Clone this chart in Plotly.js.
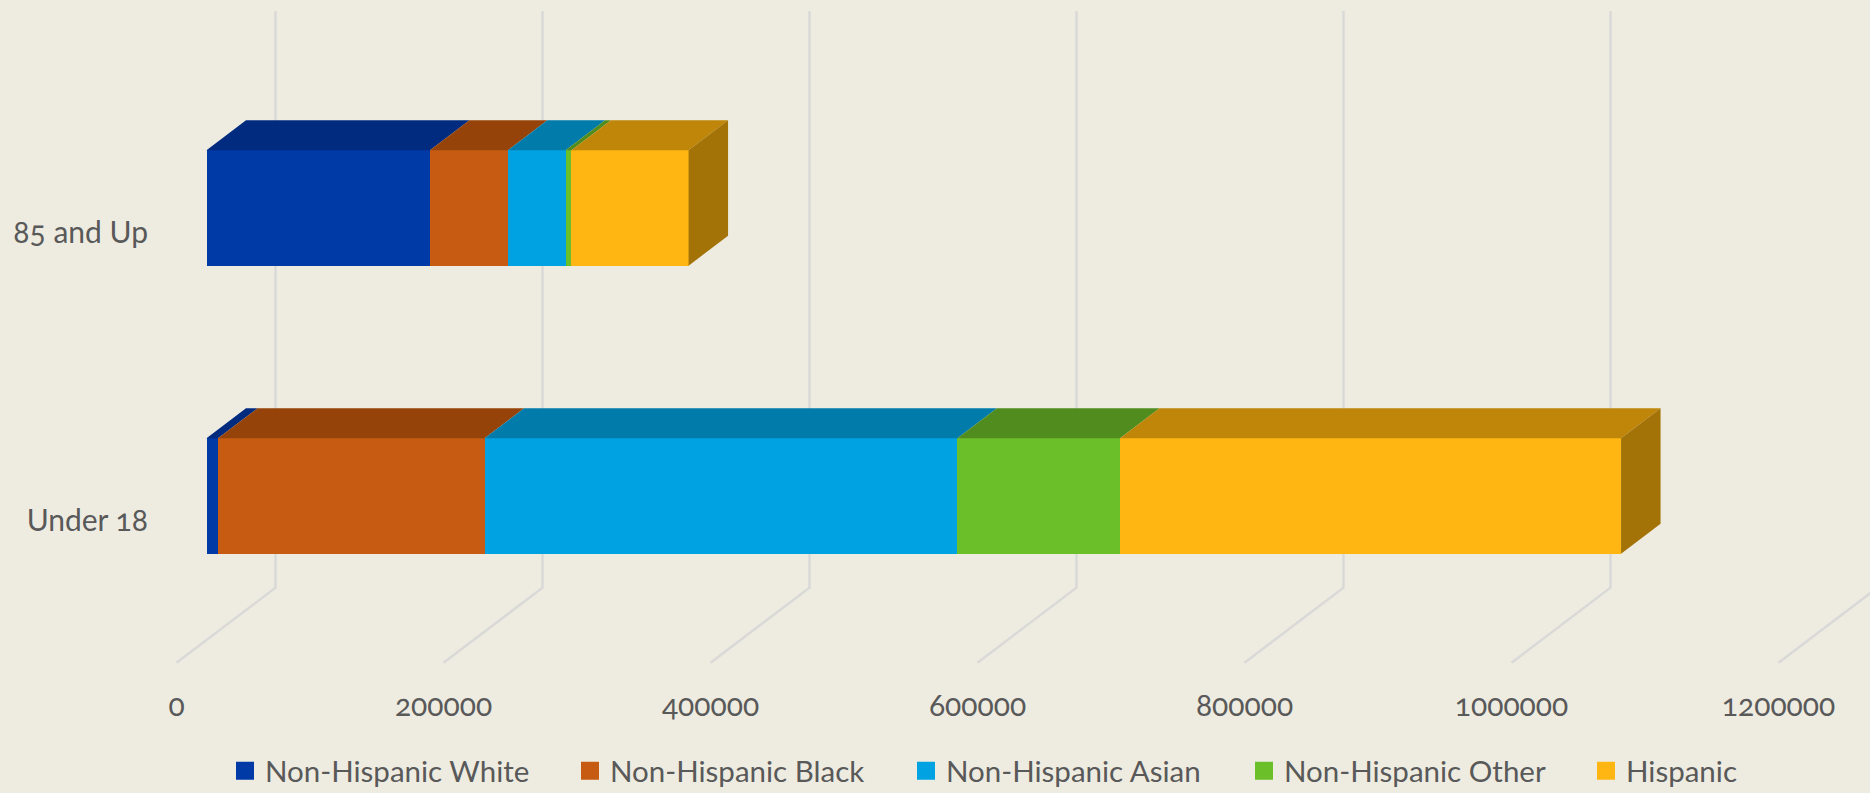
<!DOCTYPE html>
<html>
<head>
<meta charset="utf-8">
<script src="https://cdn.plot.ly/plotly-3.0.1.min.js"></script>
<style>html,body{margin:0;padding:0;background:#EEECE1;overflow:hidden}#chart{width:1870px;height:793px}
.xtick text,.ytick text{font-variant-numeric:oldstyle-nums !important;font-feature-settings:"onum" 1 !important}</style>
</head>
<body>
<div id="chart"></div>
<script>
// ---- data ----
const categories = ["Under 18", "85 and Up"];
const seriesNames = ["Non-Hispanic White", "Non-Hispanic Black", "Non-Hispanic Asian", "Non-Hispanic Other", "Hispanic"];
const nonHispanicWhite = [8600, 167400];
const nonHispanicBlack = [199700, 58300];
const nonHispanicAsian = [354200, 43300];
const nonHispanicOther = [121800, 4400];
const hispanic = [375300, 87700];
const xTickValues = [0, 200000, 400000, 600000, 800000, 1000000, 1200000];

// ---- styles ----
const frontColors = ["#003AA6", "#C75B12", "#00A2E2", "#6BBF29", "#FFB612"];
const topColors = ["#002B7E", "#954309", "#007BAA", "#518C1E", "#BF860A"];
const sideColor = "#A37307";
const bg = "#EEECE1", grid = "#D9D9D8", text = "#595959";
const fontFamily = "Lato, 'Open Sans', sans-serif";
const legendKeyPx = [236, 581, 917, 1255, 1597];

// ---- pseudo-3D geometry (pixels of the plot area turned into axis units) ----
const W = 1870, H = 793;
const L = 156, B = 685, T = 0;
const pxPerValue = 267 / 200000, pxPerCat = 288;
const yCentrePx = 496;                // pixel row of category 0
const barOriginPx = 206.5, tickOriginPx = 176.5;
const yRange = [(yCentrePx - B) / pxPerCat, (yCentrePx - T) / pxPerCat];
const xRangeFrom = o => [(L - o) / pxPerValue, (W - o) / pxPerValue];
const barThickness = 115.4 / pxPerCat;
const depthX = 39.5 / pxPerValue, depthY = 30 / pxPerCat;
const gridDepthX = 99 / pxPerValue;
const gridFrontY = (yCentrePx - 662.7) / pxPerCat, gridBackY = (yCentrePx - 587.7) / pxPerCat, gridTopY = (yCentrePx - 11) / pxPerCat;
const labelShift = 0.086;

const seriesValues = [nonHispanicWhite, nonHispanicBlack, nonHispanicAsian, nonHispanicOther, hispanic];
const positions = categories.map((c, i) => i);
const traces = [];

// gridlines: wall + floor, on the base axes, beneath the overlay with the bars
const gx = [], gy = [];
xTickValues.forEach(v => {
  gx.push(v, v + gridDepthX, v + gridDepthX, null);
  gy.push(gridFrontY, gridBackY, gridTopY, null);
});
traces.push({type: "scatter", mode: "lines", x: gx, y: gy, xaxis: "x", yaxis: "y",
  line: {color: grid, width: 2.5}, showlegend: false, hoverinfo: "skip"});

// front faces, stacked by the library
seriesNames.forEach((name, s) => {
  traces.push({type: "bar", orientation: "h", name, x: seriesValues[s], y: positions,
    width: barThickness, xaxis: "x2", yaxis: "y2", showlegend: false,
    marker: {color: frontColors[s], line: {width: 0}}});
});

// top faces
const running = categories.map(() => 0);
seriesNames.forEach((name, s) => {
  const px = [], py = [];
  positions.forEach((p, c) => {
    const a = running[c], b = a + seriesValues[s][c], t = p + barThickness / 2;
    px.push(a, b, b + depthX, a + depthX, a, null);
    py.push(t, t, t + depthY, t + depthY, t, null);
    running[c] = b;
  });
  traces.push({type: "scatter", mode: "lines", x: px, y: py, xaxis: "x2", yaxis: "y2",
    fill: "toself", fillcolor: topColors[s], line: {width: 0, color: topColors[s]},
    showlegend: false, hoverinfo: "skip"});
});

// right-hand end faces
const sx = [], sy = [];
positions.forEach((p, c) => {
  const e = running[c], t = p + barThickness / 2, b = p - barThickness / 2;
  sx.push(e, e + depthX, e + depthX, e, e, null);
  sy.push(b, b + depthY, t + depthY, t, b, null);
});
traces.push({type: "scatter", mode: "lines", x: sx, y: sy, xaxis: "x2", yaxis: "y2",
  fill: "toself", fillcolor: sideColor, line: {width: 0, color: sideColor},
  showlegend: false, hoverinfo: "skip"});

const layout = {
  width: W, height: H,
  paper_bgcolor: bg, plot_bgcolor: "rgba(0,0,0,0)",
  margin: {l: L, r: 0, t: T, b: H - B, pad: 0, autoexpand: false},
  barmode: "stack", bargap: 0,
  showlegend: true,
  font: {family: fontFamily, color: text, size: 24},
  xaxis: {range: xRangeFrom(tickOriginPx), tickmode: "array", tickvals: xTickValues,
    ticktext: xTickValues.map(String), showgrid: false, zeroline: false, showline: false, ticks: "",
    tickfont: {family: fontFamily, size: 30, color: text}, fixedrange: true},
  yaxis: {range: yRange, tickmode: "array", tickvals: positions.map(p => p - labelShift), ticktext: categories,
    showgrid: false, zeroline: false, showline: false, ticks: "", ticklabelstandoff: 7,
    tickfont: {family: fontFamily, size: 30, color: text}, fixedrange: true},
  xaxis2: {range: xRangeFrom(barOriginPx), overlaying: "x", visible: false, anchor: "y2", fixedrange: true},
  yaxis2: {range: yRange, overlaying: "y", visible: false, anchor: "x2", fixedrange: true}
};

// legend: one keyed entry per series, placed where the reference puts it
seriesNames.forEach((name, s) => {
  const id = s === 0 ? "legend" : "legend" + (s + 1);
  traces.push({type: "scatter", mode: "markers", name, x: [null], y: [null], xaxis: "x", yaxis: "y", legend: id,
    showlegend: true, marker: {symbol: "square", size: 16, color: frontColors[s], line: {width: 2, color: frontColors[s]}}});
  layout[id] = {orientation: "h", itemsizing: "trace", x: (legendKeyPx[s] - 11 - L) / (W - L), xanchor: "left",
    y: (B - 745) / (B - T), yanchor: "top", font: {family: fontFamily, size: 29.5, color: text},
    bgcolor: "rgba(0,0,0,0)", itemclick: false, itemdoubleclick: false};
});

Plotly.newPlot("chart", traces, layout, {displayModeBar: false});
</script>
</body>
</html>
